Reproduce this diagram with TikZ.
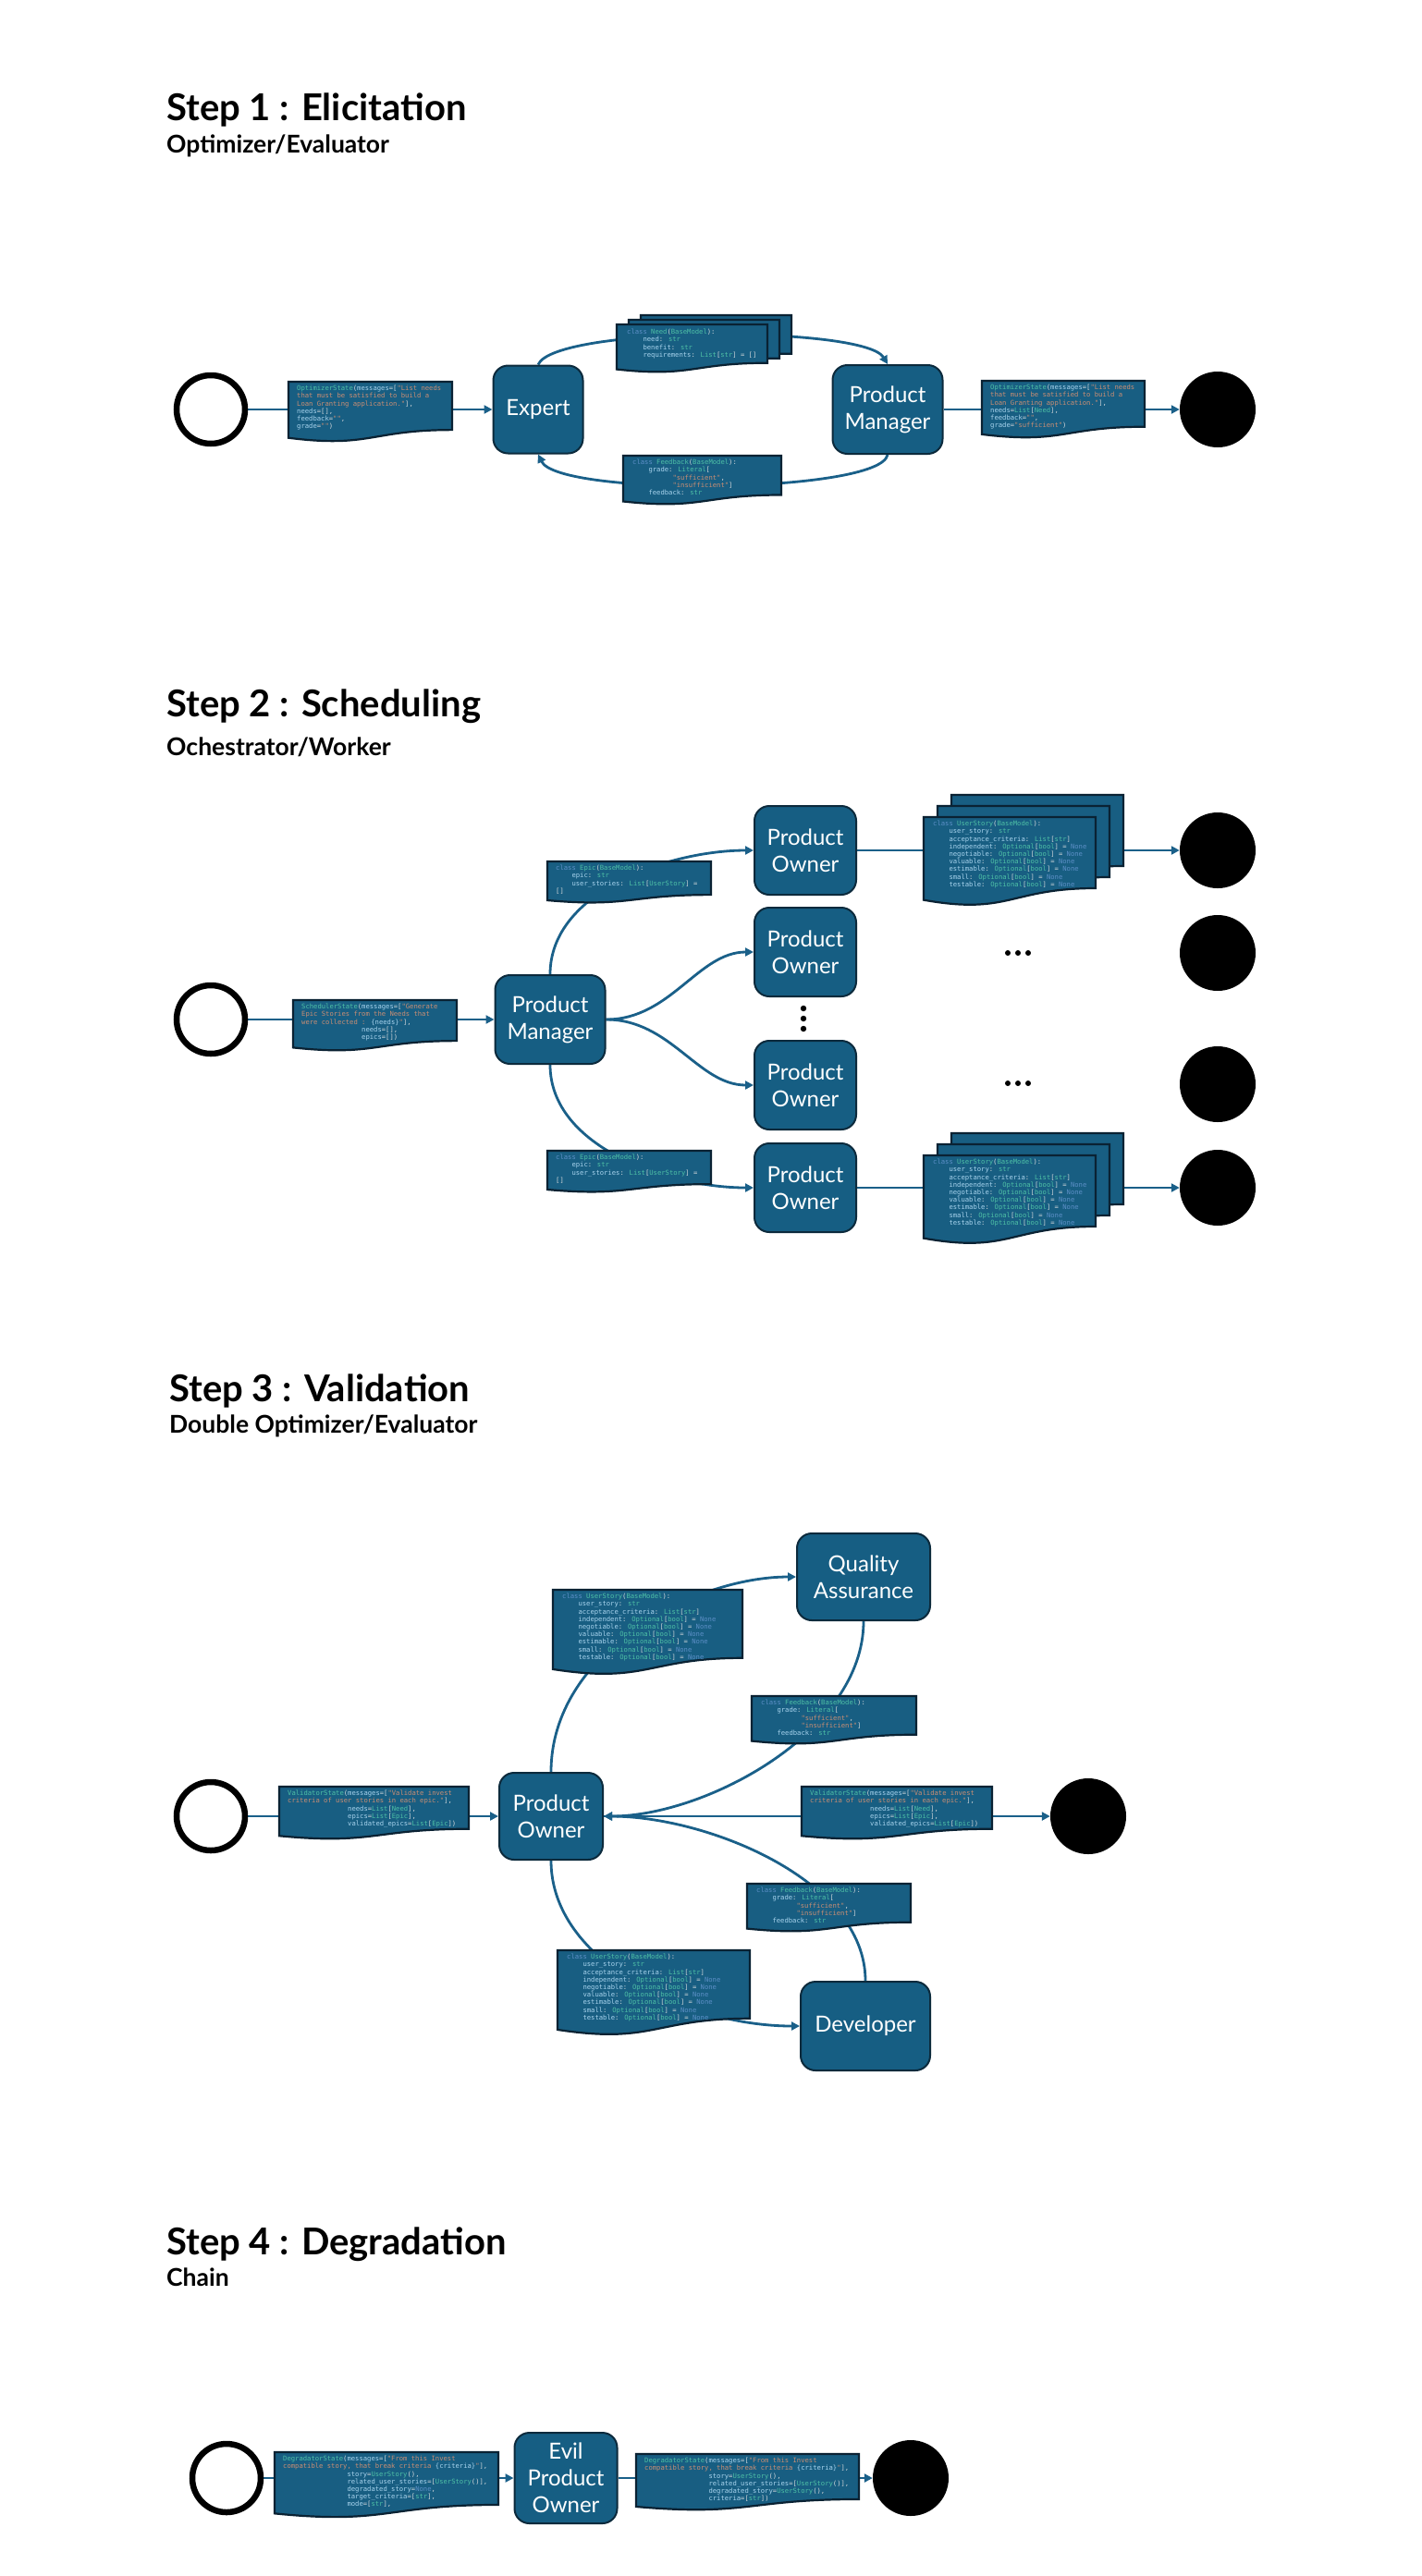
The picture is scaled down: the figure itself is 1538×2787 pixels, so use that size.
\documentclass[tikz,border=0pt]{standalone}
\usepackage{fontspec}
\setmainfont{Lato}
\newfontfamily\codefont{DejaVu Sans Mono}
\usetikzlibrary{arrows.meta}
\pgfdeclarelayer{back}
\pgfdeclarelayer{bg}
\pgfsetlayers{back,bg,main}
\definecolor{boxfill}{HTML}{165E83}
\definecolor{boxline}{HTML}{0C2A3C}
\definecolor{docfill}{HTML}{185E82}
\definecolor{docline}{HTML}{0A2233}
\definecolor{connc}{HTML}{1A6089}
\definecolor{ckw}{HTML}{5C8FC7}
\definecolor{cty}{HTML}{4EC0A6}
\definecolor{cst}{HTML}{C98E74}
\definecolor{cva}{HTML}{A8D4EE}
\definecolor{cpun}{HTML}{D0D6DA}
\newcommand\Ckw[1]{\textcolor{ckw}{#1}}
\newcommand\Cty[1]{\textcolor{cty}{#1}}
\newcommand\Cst[1]{\textcolor{cst}{#1}}
\newcommand\Cva[1]{\textcolor{cva}{#1}}
\newcommand\IndF{\hphantom{0000}}
\newcommand\IndX{\hphantom{000000000000000}}
\newcommand\IndY{\hphantom{0000000000000000}}
\newcommand\docshape[4]{%
  \path[docsh] (#1,#2) -- (#3,#2) -- (#3,{#2+0.802*(#4-#2)})
    .. controls ({(#1+#3)/2},{#2+0.802*(#4-#2)}) and ({(#1+#3)/2},{#2+1.107*(#4-#2)})
    .. (#1,{#2+0.934*(#4-#2)}) -- cycle;}
\newcommand\docstack[6]{%
  \begin{scope}[shift={({2*#5},{2*#6})}]\docshape{#1}{#2}{#3}{#4}\end{scope}
  \begin{scope}[shift={(#5,#6)}]\docshape{#1}{#2}{#3}{#4}\end{scope}
  \docshape{#1}{#2}{#3}{#4}}
\newcommand\UserStoryText{%
\Ckw{class} \Cty{UserStory}(\Cty{BaseModel}):\\
\IndF\Cva{user\_story}: \Cty{str}\\
\IndF\Cva{acceptance\_criteria}: \Cty{List}[\Cty{str}]\\
\IndF\Cva{independent}: \Cty{Optional}[\Cty{bool}] = \Ckw{None}\\
\IndF\Cva{negotiable}: \Cty{Optional}[\Cty{bool}] = \Ckw{None}\\
\IndF\Cva{valuable}: \Cty{Optional}[\Cty{bool}] = \Ckw{None}\\
\IndF\Cva{estimable}: \Cty{Optional}[\Cty{bool}] = \Ckw{None}\\
\IndF\Cva{small}: \Cty{Optional}[\Cty{bool}] = \Ckw{None}\\
\IndF\Cva{testable}: \Cty{Optional}[\Cty{bool}] = \Ckw{None}}
\newcommand\EpicText{%
\Ckw{class} \Cty{Epic}(\Cty{BaseModel}):\\
\IndF\Cva{epic}: \Cty{str}\\
\IndF\Cva{user\_stories}: \Cty{List}[\Cty{UserStory}] =\\
\relax[]}
\newcommand\FeedbackText{%
\Ckw{class} \Cty{Feedback}(\Cty{BaseModel}):\\
\IndF\Cva{grade}: \Cty{Literal}[\\
\IndF\hphantom{000000}\Cst{"sufficient"},\\
\IndF\hphantom{000000}\Cst{"insufficient"}]\\
\IndF\Cva{feedback}: \Cty{str}}
\newcommand\ValidatorText{%
\Cty{ValidatorState}(\Cva{messages}=[\Cst{"Validate invest}\\
\Cst{criteria of user stories in each epic."}],\\
\IndX\Cva{needs}=\Cty{List}[\Cty{Need}],\\
\IndX\Cva{epics}=\Cty{List}[\Cty{Epic}],\\
\IndX\Cva{validated\_epics}=\Cty{List}[\Cty{Epic}])}
\tikzset{
  agent/.style={draw=boxline, line width=2pt, fill=boxfill, rounded corners=16pt,
    text=white, font=\fontsize{24}{29}\selectfont, align=center, inner sep=0pt},
  startc/.style={circle, draw=black, line width=6.5pt, fill=white, minimum size=74pt, inner sep=0pt},
  endc/.style={circle, fill=black, minimum size=82pt, inner sep=0pt},
  conn/.style={draw=connc, line width=2.8pt},
  arr/.style={conn, -{Triangle[length=9pt,width=9pt]}},
  docsh/.style={fill=docfill, draw=docline, line width=2.2pt},
  code/.style={anchor=north west, inner sep=0pt, align=left, text=cpun,
    font=\codefont\fontsize{7.2}{8.2}\selectfont},
  steptitle/.style={anchor=base west, inner sep=0pt, font=\bfseries\fontsize{40}{46}\selectfont},
  stepsub/.style={anchor=base west, inner sep=0pt, font=\bfseries\fontsize{26.5}{30}\selectfont},
}
\begin{document}
\begin{tikzpicture}[x=1pt, y=-1pt]
\useasboundingbox (0,0) rectangle (1538,2787);
\begin{pgfonlayer}{back}
\fill[white] (0,0) rectangle (1538,2787);
\end{pgfonlayer}

% ================= STEP 1 =================
\node[steptitle] (t1) at (180,130) {Step 1 : Elicitation};
\node[stepsub] (st1) at (180,165) {Optimizer/Evaluator};

\node[startc] (s1) at (228,443) {};
\node[agent, minimum width=97pt, minimum height=95pt] (expert) at (582,443) {Expert};
\node[agent, minimum width=119pt, minimum height=96pt] (pm1) at (960,443) {Product\\Manager};
\node[endc] (e1) at (1317,443) {};

\begin{pgfonlayer}{bg}
\draw[arr] (s1.east) -- (expert.west);
\draw[arr] (expert.north) .. controls +(18,-42) and +(-25,-42) .. (pm1.north);
\draw[arr] (pm1.south) .. controls +(-8,42) and +(22,46) .. (expert.south);
\draw[arr] (pm1.east) -- (e1.west);
\end{pgfonlayer}

\docshape{312}{413}{489}{478}
\node[code] (d1in) at (321,417) {%
\Cty{OptimizerState}(\Cva{messages}=[\Cst{"List needs}\\
\Cst{that must be satisfied to build a}\\
\Cst{Loan Granting application."}],\\
\Cva{needs}=[],\\
\Cva{feedback}=\Cst{""},\\
\Cva{grade}=\Cst{""})};

\docstack{667}{351}{830}{403}{13}{-5}
\node[code] (dneed) at (678,356) {%
\Ckw{class} \Cty{Need}(\Cty{BaseModel}):\\
\IndF\Cva{need}: \Cty{str}\\
\IndF\Cva{benefit}: \Cty{str}\\
\IndF\Cva{requirements}: \Cty{List}[\Cty{str}] = []};

\docshape{674}{493}{845}{546}
\node[code] (dfb1) at (684,497) {\FeedbackText};

\docshape{1062}{412}{1238}{474}
\node[code] (d1out) at (1071,416) {%
\Cty{OptimizerState}(\Cva{messages}=[\Cst{"List needs}\\
\Cst{that must be satisfied to build a}\\
\Cst{Loan Granting application."}],\\
\Cva{needs}=\Cty{List}[\Cty{Need}],\\
\Cva{feedback}=\Cst{""},\\
\Cva{grade}=\Cst{"sufficient"})};

% ================= STEP 2 =================
\node[steptitle] (t2) at (180,775) {Step 2 : Scheduling};
\node[stepsub] (st2) at (180,817) {Ochestrator/Worker};

\node[startc] (s2) at (228,1103) {};
\node[agent, minimum width=119pt, minimum height=96pt] (pm2) at (595,1103) {Product\\Manager};
\node[agent, minimum width=110pt, minimum height=96pt] (po1) at (871,920) {Product\\Owner};
\node[agent, minimum width=110pt, minimum height=96pt] (po2) at (871,1030) {Product\\Owner};
\node[agent, minimum width=110pt, minimum height=96pt] (po3) at (871,1174) {Product\\Owner};
\node[agent, minimum width=110pt, minimum height=96pt] (po4) at (871,1285) {Product\\Owner};
\node[endc] (e2a) at (1317,920) {};
\node[endc] (e2b) at (1317,1031) {};
\node[endc] (e2c) at (1317,1173) {};
\node[endc] (e2d) at (1317,1285) {};

\fill (869,1091) circle (3.2pt) (869,1102) circle (3.2pt) (869,1113) circle (3.2pt);
\fill (1090,1031) circle (3pt) (1101,1031) circle (3pt) (1112,1031) circle (3pt);
\fill (1090,1172) circle (3pt) (1101,1172) circle (3pt) (1112,1172) circle (3pt);

\begin{pgfonlayer}{bg}
\draw[arr] (s2.east) -- (pm2.west);
\draw[arr] (pm2.north) .. controls +(0,-90) and +(-90,0) .. (po1.west);
\draw[arr] (pm2.south) .. controls +(0,90) and +(-90,0) .. (po4.west);
\draw[arr] (pm2.east) .. controls +(70,0) and +(-60,0) .. (po2.west);
\draw[arr] (pm2.east) .. controls +(70,0) and +(-60,0) .. (po3.west);
\draw[arr] (po1.east) -- (e2a.west);
\draw[arr] (po4.east) -- (e2d.west);
\end{pgfonlayer}

\docshape{317}{1082}{494}{1137}
\node[code] (d2in) at (326,1086) {%
\Cty{SchedulerState}(\Cva{messages}=[\Cst{"Generate}\\
\Cst{Epic Stories from the Needs that}\\
\Cst{were collected : }\Cva{\{needs\}}\Cst{"}],\\
\IndX\Cva{needs}=[],\\
\IndX\Cva{epics}=[])};

\docshape{592}{932}{769}{977}
\node[code] (depic1) at (601,936) {\EpicText};
\docshape{592}{1245}{769}{1290}
\node[code] (depic2) at (601,1249) {\EpicText};

\docstack{999}{884}{1185}{980}{15}{-12}
\node[code] (dus1) at (1009,888) {\UserStoryText};
\docstack{999}{1250}{1185}{1346}{15}{-12}
\node[code] (dus2) at (1009,1254) {\UserStoryText};

% ================= STEP 3 =================
\node[steptitle] (t3) at (183,1516) {Step 3 : Validation};
\node[stepsub] (st3) at (183,1550) {Double Optimizer/Evaluator};

\node[startc] (s3) at (228,1965) {};
\node[agent, minimum width=112pt, minimum height=94pt] (po5) at (596,1965) {Product\\Owner};
\node[agent, minimum width=144pt, minimum height=94pt] (qa) at (934,1706) {Quality\\Assurance};
\node[agent, minimum width=140pt, minimum height=96pt] (dev) at (936,2192) {Developer};
\node[endc] (e3) at (1177,1965) {};

\begin{pgfonlayer}{bg}
\draw[arr] (s3.east) -- (po5.west);
\draw[arr] (po5.north) .. controls +(0,-130) and +(-110,0) .. (qa.west);
\draw[arr] (qa.south) .. controls +(0,120) and +(110,0) .. (po5.east);
\draw[arr] (dev.north) .. controls +(0,-110) and +(110,0) .. (po5.east);
\draw[arr] (po5.south) .. controls +(0,110) and +(-120,0) .. (dev.west);
\draw[arr] (po5.east) -- (e3.west);
\end{pgfonlayer}

\docshape{302}{1933}{507}{1990}
\node[code] (d3in) at (311,1937) {\ValidatorText};
\docshape{598}{1720}{803}{1812}
\node[code] (dus3) at (608,1724) {\UserStoryText};
\docshape{813}{1835}{991}{1887}
\node[code] (dfb2) at (823,1839) {\FeedbackText};
\docshape{867}{1933}{1073}{1990}
\node[code] (d3out) at (876,1937) {\ValidatorText};
\docshape{808}{2038}{985}{2090}
\node[code] (dfb3) at (818,2042) {\FeedbackText};
\docshape{603}{2110}{811}{2202}
\node[code] (dus4) at (613,2114) {\UserStoryText};

% ================= STEP 4 =================
\node[steptitle] (t4) at (180,2439) {Step 4 : Degradation};
\node[stepsub] (st4) at (180,2473) {Chain};

\node[startc] (s4) at (245,2681) {};
\node[agent, minimum width=111pt, minimum height=98pt] (evil) at (612,2681) {Evil\\Product\\Owner};
\node[endc] (e4) at (985,2681) {};

\begin{pgfonlayer}{bg}
\draw[arr] (s4.east) -- (evil.west);
\draw[arr] (evil.east) -- (e4.west);
\end{pgfonlayer}

\docshape{297}{2653}{539}{2724}
\node[code] (d4in) at (306,2657) {%
\Cty{DegradatorState}(\Cva{messages}=[\Cst{"From this Invest}\\
\Cst{compatible story, that break criteria }\Cva{\{criteria\}}\Cst{"}],\\
\IndY\Cva{story}=\Cty{UserStory}(),\\
\IndY\Cva{related\_user\_stories}=[\Cty{UserStory}()],\\
\IndY\Cva{degradated\_story}=\Ckw{None},\\
\IndY\Cva{target\_criteria}=[\Cty{str}],\\
\IndY\Cva{mode}=[\Cty{str}],};

\docshape{688}{2655}{929}{2716}
\node[code] (d4out) at (697,2659) {%
\Cty{DegradatorState}(\Cva{messages}=[\Cst{"From this Invest}\\
\Cst{compatible story, that break criteria }\Cva{\{criteria\}}\Cst{"}],\\
\IndY\Cva{story}=\Cty{UserStory}(),\\
\IndY\Cva{related\_user\_stories}=[\Cty{UserStory}()],\\
\IndY\Cva{degradated\_story}=\Cty{UserStory}(),\\
\IndY\Cva{criteria}=[\Cty{str}])};
\end{tikzpicture}
\end{document}
